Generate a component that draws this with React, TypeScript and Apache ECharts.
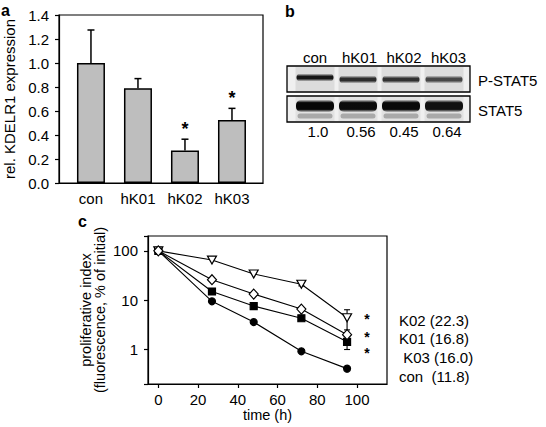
import React, { useEffect, useRef } from "react";
import * as echarts from "echarts";

const FONT = "'Liberation Sans', Arial, Helvetica, sans-serif";

// ---------- Panel a : KDELR1 expression ----------
const barCategories = ["con", "hK01", "hK02", "hK03"];
const barValues = [1.0, 0.79, 0.27, 0.525];
const barErrors = [0.275, 0.08, 0.095, 0.097];
const barSignificant = [false, false, true, true];

// ---------- Panel b : western blot ----------
const blotLanes = ["con", "hK01", "hK02", "hK03"];
const blotRowLabels = ["P-STAT5", "STAT5"];
const blotRatios = ["1.0", "0.56", "0.45", "0.64"];
const pStat5Darkness = [0.9, 0.8, 0.78, 0.68];
const stat5Darkness = [0.97, 0.95, 0.96, 0.93];

// ---------- Panel c : proliferative index ----------
const timePoints = [0, 27, 48, 72, 95];
const k02Values = [100, 65, 34, 21, 4.4];
const k01Values = [100, 26, 13.3, 6.6, 2.0];
const k03Values = [100, 15, 7.6, 4.3, 1.43];
const conValues = [100, 9.5, 3.6, 0.92, 0.41];
const errorBarsC = [
  [72, 19.5, 23],
  [95, 2.5, 6.4],
  [72, 3.9, 4.8],
  [95, 1.0, 1.85],
];
const starPositionsC = [
  [105, 4.5],
  [105, 2.0],
  [105, 0.95],
];
const legendLabelsC = ["K02 (22.3)", "K01 (16.8)", " K03 (16.0)", "con  (11.8)"];
const xTicksC = [0, 20, 40, 60, 80, 100];
const decadeTicksC = [1, 10, 100];

const axisLineStyle = { color: "#000", width: 1.2 };
const labelStyle = { color: "#000", fontSize: 15, fontFamily: FONT };
const nameStyle = { color: "#000", fontSize: 14.5, fontFamily: FONT };

const txt = (text: string, x: number, y: number, font: string, align = "center") => ({
  type: "text",
  x,
  y,
  style: { text, font, fill: "#000", align, verticalAlign: "middle", textAlign: align, textVerticalAlign: "middle" },
});

function buildBlotGraphics(): any[] {
  const left = 287;
  const right = 470;
  const rowTops = [66, 96];
  const rowH = 26;
  const laneStart = 315;
  const laneStep = 43;
  const laneW = 39;
  const els: any[] = [];
  blotLanes.forEach((lab, i) => {
    els.push(txt(lab, laneStart + i * laneStep + i * 1.5, 57, `15px ${FONT}`));
  });
  rowTops.forEach((top, r) => {
    els.push({ type: "rect", shape: { x: left, y: top, width: right - left, height: rowH }, style: { fill: "#f0f0f0" } });
    blotLanes.forEach((_, i) => {
      const cx = laneStart + i * laneStep;
      els.push({
        type: "rect",
        shape: { x: cx - laneW / 2, y: top + 1, width: laneW, height: rowH - 2 },
        style: { fill: r === 0 ? "#dcdcdc" : "#e2e2e2" },
      });
      if (r === 0) {
        const d = pStat5Darkness[i];
        const cy = top + 13 + (i === 0 ? -1.5 : 0.5);
        els.push({
          type: "rect",
          shape: { x: cx - laneW / 2 + 1, y: cy - 4, width: laneW - 2, height: 8, r: 4 },
          style: {
            fill: new echarts.graphic.LinearGradient(0, 0, 0, 1, [
              { offset: 0, color: "rgba(0,0,0,0)" },
              { offset: 0.35, color: `rgba(0,0,0,${d})` },
              { offset: 0.65, color: `rgba(0,0,0,${d})` },
              { offset: 1, color: "rgba(0,0,0,0)" },
            ]),
          },
        });
      } else {
        const d = stat5Darkness[i];
        const cy = top + 10;
        els.push({
          type: "rect",
          shape: { x: cx - laneW / 2 + 0.5, y: cy - 6, width: laneW - 1, height: 12, r: 5 },
          style: {
            fill: new echarts.graphic.LinearGradient(0, 0, 0, 1, [
              { offset: 0, color: "rgba(0,0,0,0.15)" },
              { offset: 0.22, color: `rgba(0,0,0,${d})` },
              { offset: 0.78, color: `rgba(0,0,0,${d})` },
              { offset: 1, color: "rgba(0,0,0,0.15)" },
            ]),
          },
        });
        els.push({
          type: "rect",
          shape: { x: cx - laneW / 2 + 2, y: top + 17.5, width: laneW - 4, height: 5, r: 2.5 },
          style: { fill: "rgba(0,0,0,0.25)" },
        });
      }
    });
    els.push({
      type: "rect",
      shape: { x: left, y: top, width: right - left, height: rowH },
      style: { fill: "none", stroke: "#000", lineWidth: 1.3 },
    });
    els.push(txt(blotRowLabels[r], right + 8, top + rowH / 2 + 1, `15px ${FONT}`, "left"));
  });
  blotRatios.forEach((t, i) => {
    els.push(txt(t, laneStart + i * laneStep + 3, 131, `15px ${FONT}`));
  });
  return els;
}

export default function App() {
  const ref = useRef<HTMLDivElement>(null);
  useEffect(() => {
    if (!ref.current) return;
    const chart = echarts.init(ref.current, undefined, { renderer: "svg" });

    const lineSeries = (name: string, values: number[], symbol: string, size: any, fill: string, rotate = 0) => ({
      name,
      type: "line",
      xAxisIndex: 1,
      yAxisIndex: 1,
      data: timePoints.map((t, i) => [t, values[i]]),
      symbol,
      symbolSize: size,
      symbolRotate: rotate,
      showAllSymbol: true,
      lineStyle: { color: "#000", width: 1.1 },
      itemStyle: { color: fill, borderColor: "#000", borderWidth: 1.2 },
      z: 3,
      silent: true,
    });

    const option: any = {
      animation: false,
      backgroundColor: "#fff",
      grid: [
        { left: 59, top: 15, width: 204, height: 168, show: true, borderColor: "#000", borderWidth: 1.2, backgroundColor: "transparent" },
        { left: 148, top: 236, width: 239, height: 148, show: true, borderColor: "#000", borderWidth: 1.2, backgroundColor: "transparent" },
      ],
      xAxis: [
        {
          gridIndex: 0,
          type: "value",
          min: -0.68,
          max: 3.66,
          splitLine: { show: false },
          axisLine: { show: true, onZero: false, lineStyle: axisLineStyle },
          axisTick: { show: false },
          axisLabel: {
            ...labelStyle,
            margin: 8,
            customValues: [0, 1, 2, 3],
            formatter: (v: number) => barCategories[Math.round(v)] ?? "",
          },
        },
        {
          gridIndex: 1,
          type: "value",
          min: -5.2,
          max: 115.1,
          splitLine: { show: false },
          axisLine: { show: true, onZero: false, lineStyle: axisLineStyle },
          axisTick: { show: true, length: 4, customValues: xTicksC, lineStyle: axisLineStyle },
          axisLabel: { ...labelStyle, margin: 8, customValues: xTicksC },
          name: "time (h)",
          nameLocation: "middle",
          nameGap: 22,
          nameTextStyle: { ...nameStyle },
        },
      ],
      yAxis: [
        {
          gridIndex: 0,
          type: "value",
          min: 0,
          max: 1.4,
          interval: 0.2,
          splitLine: { show: false },
          axisLine: { show: true, onZero: false, lineStyle: axisLineStyle },
          axisTick: { show: true, length: 4, lineStyle: axisLineStyle },
          axisLabel: { ...labelStyle, margin: 10, formatter: (v: number) => v.toFixed(1) },
          name: "rel. KDELR1 expression",
          nameLocation: "middle",
          nameGap: 42,
          nameTextStyle: { ...labelStyle },
        },
        {
          gridIndex: 1,
          type: "log",
          logBase: 10,
          min: 0.2,
          max: 200,
          splitLine: { show: false },
          axisLine: { show: true, onZero: false, lineStyle: axisLineStyle },
          axisTick: { show: true, length: 4, lineStyle: axisLineStyle },
          axisLabel: {
            ...labelStyle,
            margin: 10,
            formatter: (v: number) => {
              const lg = Math.log10(v);
              const r = Math.round(lg);
              return Math.abs(lg - r) < 1e-6 && decadeTicksC.includes(Math.pow(10, r)) ? String(Math.pow(10, r)) : "";
            },
          },
          name: "proliferative index\n(fluorescence, % of initial)",
          nameLocation: "middle",
          nameGap: 41,
          nameTextStyle: { ...nameStyle, lineHeight: 14 },
        },
      ],
      series: [
        {
          type: "bar",
          xAxisIndex: 0,
          yAxisIndex: 0,
          data: barValues.map((v, i) => [i, v]),
          barWidth: 28,
          itemStyle: { color: "#bebebe", borderColor: "#000", borderWidth: 1.5 },
          silent: true,
        },
        {
          type: "custom",
          xAxisIndex: 0,
          yAxisIndex: 0,
          data: barValues.map((v, i) => [i, v, barErrors[i], barSignificant[i] ? 1 : 0]),
          encode: { x: 0, y: 1 },
          silent: true,
          z: 4,
          renderItem: (params: any, api: any) => {
            const x = api.value(0);
            const v = api.value(1);
            const e = api.value(2);
            const sig = api.value(3);
            const base = api.coord([x, v]);
            const top = api.coord([x, v + e]);
            const children: any[] = [
              { type: "line", shape: { x1: base[0], y1: base[1], x2: top[0], y2: top[1] }, style: { stroke: "#000", lineWidth: 1.5 } },
              { type: "line", shape: { x1: top[0] - 3.5, y1: top[1], x2: top[0] + 3.5, y2: top[1] }, style: { stroke: "#000", lineWidth: 1.5 } },
            ];
            if (sig) {
              children.push(txt("*", top[0], top[1] - 10, `bold 18px ${FONT}`));
            }
            return { type: "group", children };
          },
        },
        {
          type: "custom",
          xAxisIndex: 1,
          yAxisIndex: 1,
          data: errorBarsC,
          encode: { x: 0, y: [1, 2] },
          silent: true,
          z: 2,
          renderItem: (params: any, api: any) => {
            const t = api.value(0);
            const lo = api.coord([t, api.value(1)]);
            const hi = api.coord([t, api.value(2)]);
            const st = { stroke: "#000", lineWidth: 1.1 };
            return {
              type: "group",
              children: [
                { type: "line", shape: { x1: lo[0], y1: lo[1], x2: hi[0], y2: hi[1] }, style: st },
                { type: "line", shape: { x1: lo[0] - 3, y1: lo[1], x2: lo[0] + 3, y2: lo[1] }, style: st },
                { type: "line", shape: { x1: hi[0] - 3, y1: hi[1], x2: hi[0] + 3, y2: hi[1] }, style: st },
              ],
            };
          },
        },
        lineSeries("con", conValues, "circle", 7, "#000"),
        lineSeries("K03", k03Values, "rect", 7, "#000"),
        lineSeries("K02", k02Values, "triangle", [9, 8], "#fff", 180),
        lineSeries("K01", k01Values, "diamond", [9, 10], "#fff"),
        {
          type: "custom",
          xAxisIndex: 1,
          yAxisIndex: 1,
          data: starPositionsC,
          encode: { x: 0, y: 1 },
          silent: true,
          clip: false,
          renderItem: (params: any, api: any) => {
            const p = api.coord([api.value(0), api.value(1)]);
            return txt("*", p[0], p[1] + 2, `bold 14px ${FONT}`);
          },
        },
      ],
      graphic: [
        { type: "text", x: 1, y: 2, style: { text: "a", font: `bold 16px ${FONT}`, fill: "#000" } },
        { type: "text", x: 285, y: 3, style: { text: "b", font: `bold 16px ${FONT}`, fill: "#000" } },
        { type: "text", x: 78, y: 213, style: { text: "c", font: `bold 16px ${FONT}`, fill: "#000" } },
        ...buildBlotGraphics(),
        ...legendLabelsC.map((t, i) => txt(t, 399, 320 + i * 18.7, `15px ${FONT}`, "left")),
      ],
    };
    chart.setOption(option);
    return () => chart.dispose();
  }, []);
  return <div ref={ref} style={{ position: "fixed", left: 0, top: 0, width: 546, height: 427, background: "#fff" }} />;
}
